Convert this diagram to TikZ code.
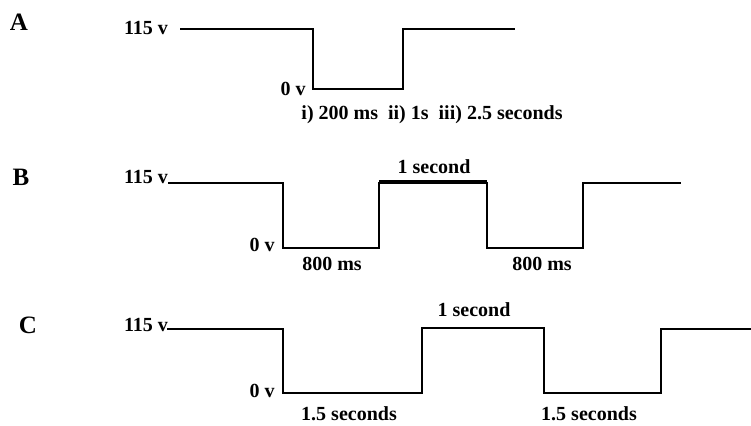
\documentclass[tikz,border=0pt]{standalone}
\usepackage{fontspec}
\setmainfont{Liberation Serif}
\usepackage{tikz}
\usetikzlibrary{positioning}

\begin{document}
\begin{tikzpicture}[x=1pt,y=-1pt,
  lbl/.style={font=\bfseries\fontsize{20}{22}\selectfont,inner sep=0pt},
  tag/.style={font=\bfseries\fontsize{25}{27}\selectfont,inner sep=0pt},
  wave/.style={line width=2.8pt,line join=miter},
  thickwave/.style={line width=4.8pt}]
  \useasboundingbox (0,0) rectangle (751,425);
  % trace A
  \node[tag] (tagA) at (19,22) {A};
  \node[lbl] (highA) at (146,28) {115 v};
  \node[lbl] (zeroA) at (293,89) {0 v};
  \draw[wave] (180,29) -- (313,29) -- (313,89) -- (403,89) -- (403,29) -- (515,29);
  \node[lbl] (timeA) at (432,115) {i) 200 ms\ \ ii) 1s\ \ iii) 2.5 seconds};
  % trace B
  \node[tag] (tagB) at (21,177) {B};
  \node[lbl] (highB) at (146,177) {115 v};
  \node[lbl] (zeroB) at (262,245) {0 v};
  \draw[wave] (168,183) -- (283,183) -- (283,248) -- (379,248) -- (379,183)
    -- (487,183) -- (487,248) -- (583,248) -- (583,183) -- (681,183);
  \draw[thickwave] (379,182) -- (487,182);
  \node[lbl] (onB) at (434,167) {1 second};
  \node[lbl] (offB1) at (332,264) {800 ms};
  \node[lbl] (offB2) at (542,264) {800 ms};
  % trace C
  \node[tag] (tagC) at (28,325) {C};
  \node[lbl] (highC) at (146,325) {115 v};
  \node[lbl] (zeroC) at (262,391) {0 v};
  \draw[wave] (167,329) -- (283,329) -- (283,393) -- (422,393) -- (422,328)
    -- (544,328) -- (544,393) -- (661,393) -- (661,329) -- (752,329);
  \node[lbl] (onC) at (474,310) {1 second};
  \node[lbl] (offC1) at (349,414) {1.5 seconds};
  \node[lbl] (offC2) at (589,414) {1.5 seconds};
\end{tikzpicture}
\end{document}
